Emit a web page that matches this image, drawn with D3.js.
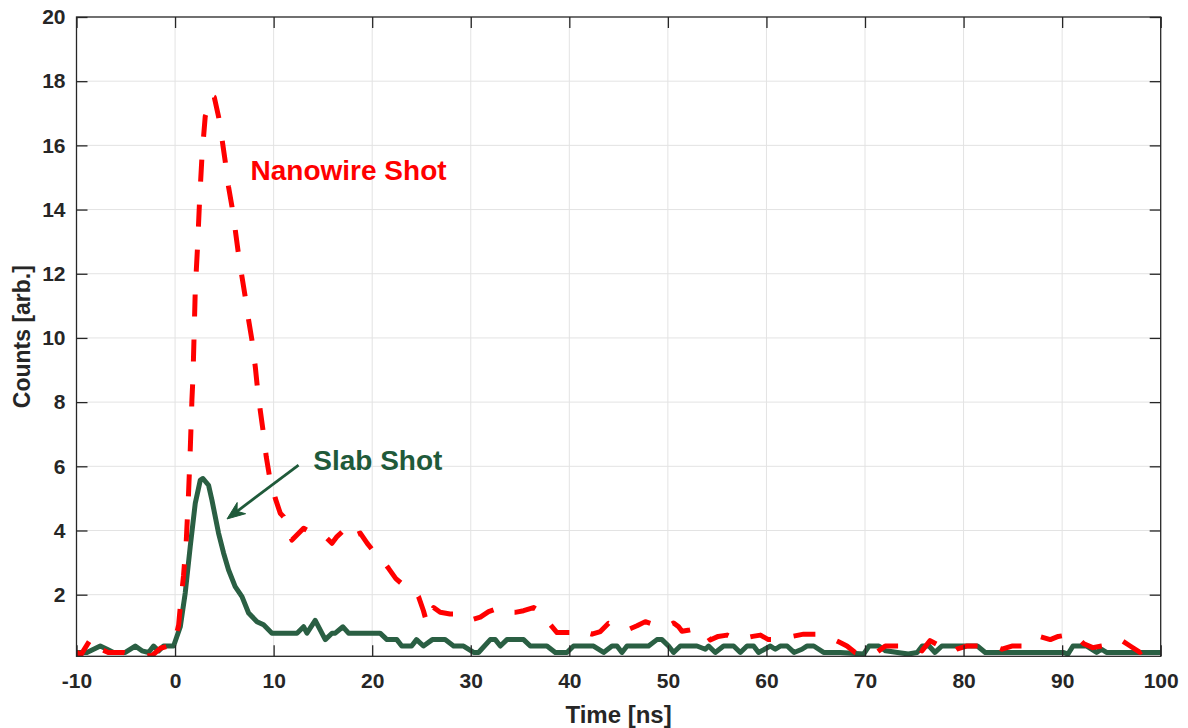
<!DOCTYPE html>
<html>
<head>
<meta charset="utf-8">
<script src="https://cdn.jsdelivr.net/npm/d3@7/dist/d3.min.js"></script>
<style>
  html, body { margin: 0; padding: 0; background: #ffffff; }
  svg { display: block; }
  text { font-family: "Liberation Sans", Arial, Helvetica, sans-serif; font-weight: bold; }
</style>
</head>
<body>
<script>
// ---------------- data ----------------
const xTicks = [-10, 0, 10, 20, 30, 40, 50, 60, 70, 80, 90, 100];
const yTicks = [2, 4, 6, 8, 10, 12, 14, 16, 18, 20];
const xLabel = "Time [ns]";
const yLabel = "Counts [arb.]";

const slabTime = [-10, -8.94, -7.59, -6.9, -6.24, -5.05, -4.04, -3.36, -2.69, -2.18, -1.67, -1.17, -0.15,
  0.53, 1.03, 1.54, 2.05, 2.56, 2.83, 3.4, 3.74, 4.41, 4.92, 5.43, 6.1, 6.79, 7.46, 8.31, 8.98, 9.83,
  12.37, 13.04, 13.38, 14.22, 15.24, 15.92, 16.25, 17.03, 17.6, 20.8, 21.5, 22.5, 23.0, 24.0, 24.5, 25.2,
  26.1, 27.4, 28.26, 29.27, 30.29, 30.79, 31.98, 32.49, 33.0, 33.67, 35.36, 36.04, 37.73, 38.58, 39.76,
  40.43, 42.46, 43.48, 44.33, 44.84, 45.34, 45.85, 48.04, 48.89, 49.4, 50.07, 50.58, 51.26, 52.95, 53.8,
  54.13, 54.81, 55.65, 56.67, 57.35, 58.03, 58.7, 59.2, 60.4, 60.9, 61.4, 62.1, 62.8, 63.6, 64.1, 64.8,
  65.8, 67.5, 69.86, 70.4, 71.4, 72.1, 73.3, 74.4, 75.3, 75.8, 76.5, 77.1, 77.8, 81.4, 82.2, 90.1, 90.6,
  91.1, 92.5, 93.5, 94.0, 94.5, 100];
const slabCounts = [0.2, 0.2, 0.4, 0.3, 0.2, 0.2, 0.4, 0.25, 0.2, 0.4, 0.25, 0.4, 0.4,
  1.0, 2.05, 3.5, 4.85, 5.57, 5.62, 5.41, 4.95, 3.92, 3.3, 2.77, 2.25, 1.94, 1.43, 1.16, 1.06, 0.8,
  0.8, 1.0, 0.8, 1.2, 0.6, 0.8, 0.8, 1.0, 0.8, 0.8, 0.6, 0.6, 0.4, 0.4, 0.6, 0.4,
  0.6, 0.6, 0.4, 0.4, 0.2, 0.2, 0.6, 0.6, 0.4, 0.6, 0.6, 0.4, 0.4, 0.2, 0.2,
  0.4, 0.4, 0.2, 0.4, 0.4, 0.2, 0.4, 0.4, 0.6, 0.6, 0.4, 0.2, 0.4, 0.4, 0.3,
  0.4, 0.2, 0.4, 0.4, 0.2, 0.4, 0.4, 0.2, 0.4, 0.3, 0.4, 0.4, 0.2, 0.3, 0.4, 0.4,
  0.2, 0.2, 0.15, 0.4, 0.4, 0.25, 0.2, 0.15, 0.2, 0.4, 0.4, 0.2, 0.4, 0.4, 0.2, 0.2, 0.15,
  0.4, 0.4, 0.2, 0.3, 0.2, 0.2];

const nanoTime = [-10, -9.6, -9.1, -8.43, -7.5, -6.78, -5.26, -4.14, -2.34, -1.5, -0.66, -0.15,
  0.36, 0.53, 0.86, 1.14, 1.37, 1.54, 1.71, 1.82, 2.05, 2.28, 2.49, 2.73, 3.06, 3.3, 3.67, 3.98,
  4.41, 4.76, 5.09, 5.43, 5.77, 6.11, 6.44, 6.79, 7.12, 7.46, 7.8, 8.14, 8.31, 8.64, 8.92, 9.25, 9.59,
  10.17, 10.67, 11.01, 11.86, 13.04, 14.0, 15.07, 15.92, 16.43, 17.1, 17.6, 17.95, 18.79, 19.5, 20.31,
  21.15, 21.66, 22.4, 23.36, 24.2, 24.7, 25.2, 25.56, 26.23, 26.9, 27.9, 28.7, 29.1, 29.8, 30.97, 31.81,
  33.0, 33.67, 34.5, 35.36, 36.37, 37.23, 37.97, 38.75, 40.1, 40.6, 41.4, 42.3, 43.15, 43.98, 44.87,
  45.85, 46.87, 47.71, 48.8, 49.91, 50.58, 51.09, 51.43, 52.2, 52.95, 53.63, 54.3, 55.1, 56.0, 57.0,
  57.85, 58.6, 59.39, 60.2, 61.4, 62.6, 63.77, 65.63, 66.5, 67.32, 68.17, 69.0, 70.1, 71.2, 72.06, 72.9,
  74.1, 75.26, 75.77, 76.6, 77.6, 78.8, 79.3, 80.3, 81.7, 83.04, 83.9, 84.9, 85.96, 87.1, 87.8, 88.8,
  89.6, 90.5, 91.2, 92.2, 93.1, 94.0, 94.9, 95.9, 96.9, 97.9, 98.9, 99.6, 100];
const nanoCounts = [0.22, 0.1, 0.35, 0.68, 0.3, 0.2, 0.2, 0.1, 0.1, 0.33, 0.4, 0.4,
  1.05, 1.62, 2.6, 3.7, 5.17, 6.5, 8.07, 8.8, 11.49, 12.84, 14.3, 15.65, 16.9, 17.1, 17.55, 17.5,
  16.9, 16.2, 15.5, 14.7, 14.1, 13.36, 12.6, 11.9, 11.28, 10.56, 9.93, 9.1, 8.58, 7.75, 7.13, 6.3, 5.67,
  5.0, 4.54, 4.43, 3.7, 4.07, 3.9, 3.86, 3.6, 3.81, 4.0, 4.07, 3.81, 3.92, 3.6, 3.29,
  3.03, 2.82, 2.5, 2.25, 2.15, 1.94, 1.5, 1.1, 1.6, 1.45, 1.4, 1.4, 1.35, 1.19, 1.3, 1.47,
  1.6, 1.45, 1.45, 1.5, 1.6, 1.45, 1.1, 0.82, 0.82, 0.93, 0.85, 0.77, 0.85, 1.11, 1.0,
  0.9, 1.03, 1.16, 1.05, 1.0, 1.12, 1.0, 0.86, 0.9, 0.95, 0.9, 0.59, 0.7, 0.74, 0.6,
  0.65, 0.7, 0.74, 0.6, 0.6, 0.7, 0.77, 0.77, 0.65, 0.53, 0.4, 0.2, 0.15, 0.2, 0.4, 0.4,
  0.4, 0.35, 0.25, 0.57, 0.4, 0.2, 0.3, 0.4, 0.4, 0.4, 0.3, 0.4, 0.4, 0.45, 0.69, 0.6,
  0.7, 0.74, 0.77, 0.47, 0.35, 0.4, 0.45, 0.6, 0.4, 0.2, 0.4, 0.3, 0.25];

// annotations (data coordinates)
const nanoLabel = { text: "Nanowire Shot", t: 7.66, v: 14.92 };
const slabLabel = { text: "Slab Shot", t: 14.02, v: 5.88 };
const slabArrow = { fromT: 12.53, fromV: 6.04, toT: 5.27, toV: 4.36 };

// ---------------- layout ----------------
const W = 1188, H = 728;
const plot = { left: 76.5, right: 1160.7, top: 17, bottom: 656.3 };
const axisColor = "#262626";
const gridColor = "#e3e3e3";
const red = "#ff0000";
const green = "#2a5f43";
const greenText = "#1f5a3a";
const fontFamily = '"Liberation Sans", Arial, Helvetica, sans-serif';

const x = d3.scaleLinear().domain([-10, 100]).range([plot.left, plot.right]);
const y = d3.scaleLinear().domain([0.08, 20]).range([plot.bottom, plot.top]);

const svg = d3.select("body").append("svg").attr("width", W).attr("height", H);

svg.append("defs").append("clipPath").attr("id", "clip")
  .append("rect").attr("x", plot.left).attr("y", plot.top)
  .attr("width", plot.right - plot.left).attr("height", plot.bottom - plot.top);

// grid
const grid = svg.append("g");
grid.selectAll("line.gx").data(xTicks.slice(1, -1)).enter().append("line")
  .attr("x1", d => x(d)).attr("x2", d => x(d))
  .attr("y1", plot.top).attr("y2", plot.bottom)
  .attr("stroke", gridColor).attr("stroke-width", 1);
grid.selectAll("line.gy").data(yTicks.slice(0, -1)).enter().append("line")
  .attr("y1", d => y(d)).attr("y2", d => y(d))
  .attr("x1", plot.left).attr("x2", plot.right)
  .attr("stroke", gridColor).attr("stroke-width", 1);

// lines
const lineGen = d3.line().x(d => x(d[0])).y(d => y(d[1])).curve(d3.curveLinear);
const slabData = slabTime.map((t, i) => [t, slabCounts[i]]);
const nanoData = nanoTime.map((t, i) => [t, nanoCounts[i]]);

const lines = svg.append("g").attr("clip-path", "url(#clip)");
lines.append("path").datum(slabData).attr("d", lineGen)
  .attr("fill", "none").attr("stroke", green).attr("stroke-width", 5)
  .attr("stroke-linejoin", "round").attr("stroke-linecap", "round");
lines.append("path").datum(nanoData).attr("d", lineGen)
  .attr("fill", "none").attr("stroke", red).attr("stroke-width", 5)
  .attr("stroke-dasharray", "22,23").attr("stroke-linejoin", "round");

// axes (ticks inside, box)
const tickLen = 11;
const fmt = d => String(d);
const axB = svg.append("g").attr("transform", `translate(0,${plot.bottom})`)
  .call(d3.axisBottom(x).tickValues(xTicks).tickSizeInner(-tickLen).tickSizeOuter(0).tickPadding(17).tickFormat(fmt));
const axT = svg.append("g").attr("transform", `translate(0,${plot.top})`)
  .call(d3.axisTop(x).tickValues(xTicks).tickSizeInner(-tickLen).tickSizeOuter(0).tickFormat(""));
const axL = svg.append("g").attr("transform", `translate(${plot.left},0)`)
  .call(d3.axisLeft(y).tickValues(yTicks).tickSizeInner(-tickLen).tickSizeOuter(0).tickPadding(11).tickFormat(fmt));
const axR = svg.append("g").attr("transform", `translate(${plot.right},0)`)
  .call(d3.axisRight(y).tickValues(yTicks).tickSizeInner(-tickLen).tickSizeOuter(0).tickFormat(""));

[axB, axT, axL, axR].forEach(a => {
  a.select(".domain").remove();
  a.selectAll(".tick line").attr("stroke", axisColor).attr("stroke-width", 1.3);
  a.selectAll(".tick text").attr("fill", axisColor)
    .style("font-size", "21px").style("font-weight", "bold")
    .style("font-family", fontFamily);
});

svg.append("rect").attr("x", plot.left).attr("y", plot.top)
  .attr("width", plot.right - plot.left).attr("height", plot.bottom - plot.top)
  .attr("fill", "none").attr("stroke", axisColor).attr("stroke-width", 1.3);

// axis labels
svg.append("text").attr("x", (plot.left + plot.right) / 2).attr("y", 723)
  .attr("text-anchor", "middle").attr("fill", axisColor).style("font-size", "24px")
  .text(xLabel);
svg.append("text").attr("transform", `translate(30,${(plot.top + plot.bottom) / 2}) rotate(-90)`)
  .attr("text-anchor", "middle").attr("fill", axisColor).style("font-size", "23px")
  .text(yLabel);

// annotations
svg.append("text").attr("x", x(nanoLabel.t)).attr("y", y(nanoLabel.v))
  .attr("fill", red).style("font-size", "28px").text(nanoLabel.text);
svg.append("text").attr("x", x(slabLabel.t)).attr("y", y(slabLabel.v))
  .attr("fill", greenText).style("font-size", "28px").text(slabLabel.text);

const ax0 = x(slabArrow.fromT), ay0 = y(slabArrow.fromV);
const ax1 = x(slabArrow.toT), ay1 = y(slabArrow.toV);
const ang = Math.atan2(ay1 - ay0, ax1 - ax0);
const headLen = 18, headW = 7;
const bx = ax1 - headLen * Math.cos(ang), by = ay1 - headLen * Math.sin(ang);
svg.append("line").attr("x1", ax0).attr("y1", ay0)
  .attr("x2", ax1 - 6 * Math.cos(ang)).attr("y2", ay1 - 6 * Math.sin(ang))
  .attr("stroke", greenText).attr("stroke-width", 2.8);
const w1 = [bx + headW * Math.sin(ang), by - headW * Math.cos(ang)];
const w2 = [bx - headW * Math.sin(ang), by + headW * Math.cos(ang)];
const back = [ax1 - 0.7 * headLen * Math.cos(ang), ay1 - 0.7 * headLen * Math.sin(ang)];
svg.append("path")
  .attr("d", `M${ax1},${ay1}L${w1[0]},${w1[1]}L${back[0]},${back[1]}L${w2[0]},${w2[1]}Z`)
  .attr("fill", greenText).attr("stroke", greenText).attr("stroke-width", 1);
</script>
</body>
</html>
